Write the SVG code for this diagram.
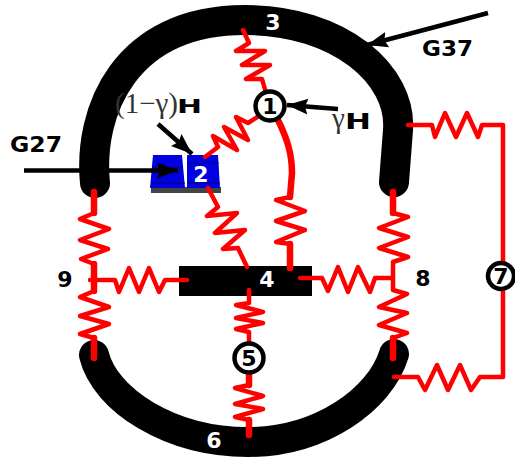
<svg xmlns="http://www.w3.org/2000/svg" width="515" height="457" viewBox="0 0 515 457">
<style>
.arc{fill:none;stroke:#000;stroke-width:30;stroke-linecap:round}
.r{fill:none;stroke:#f00;stroke-width:4.5;stroke-linejoin:round;stroke-linecap:round}
.t{fill:none;stroke:#f00;stroke-width:6.5;stroke-linecap:round}
.a{fill:none;stroke:#000;stroke-width:4.5}
.b{font-family:"DejaVu Sans",sans-serif;font-weight:bold;font-size:22px;text-anchor:middle}
.w{fill:#fff}
.s{font-family:"Liberation Serif",serif;font-size:29px;fill:#333}
.h{font-family:"DejaVu Sans",sans-serif;font-weight:bold;fill:#000}
.g{font-family:"DejaVu Sans",sans-serif;font-weight:bold;font-size:22px}
.c{fill:#fff;stroke:#000;stroke-width:4.5}
.e{stroke:#00007a;stroke-width:1}
</style>
<defs>
<marker id="ah" markerUnits="userSpaceOnUse" markerWidth="24" markerHeight="18" refX="21" refY="8" orient="auto"><path d="M0 0L21 8L0 16L3 8Z" fill="#000"/></marker>
</defs>
<g id="node3"><path class="arc" d="M95 183C88 112 124 20 245 20C340 20 402 75 398 130L394 182"/><text class="b w" x="273" y="30">3</text></g>
<g id="node6"><path class="arc" d="M94 355C105 400 170 442 248 442C320 442 380 400 394 354"/><text class="b w" x="214" y="448">6</text></g>
<g id="node4"><rect x="179" y="266" width="133" height="30" fill="#000"/><text class="b w" x="267" y="287">4</text></g>
<g id="node2"><rect x="151" y="187" width="70" height="6" fill="#444"/><path d="M153 155H182L185 188H150Z" fill="#0000e0"/><path d="M187 155H218L220 188H187Z" fill="#0000e0"/><path class="e" d="M152 167H183M151 183H185M187 163H219M187 183H220"/><text class="b w" x="201" y="182">2</text></g>
<g id="connectors">
<path class="t" d="M94 192V213"/><path class="r" d="M94 213L80 219L109 229L80 240L108 249L81 259L94 264"/><path class="t" d="M94 264V291"/>
<path class="r" d="M94 291L80 297L109 307L80 316L109 324L80 334L94 338"/><path class="t" d="M94 338V358"/>
<path class="r" d="M90 280H115L119 292L129 268L139 292L149 268L159 292L165 280H187"/>
<path class="r" d="M208 188L218 207L207 216L237 213L215 233L245 230L223 249L238 248L247 267"/>
<path class="r" d="M249 290V303L236 305L263 312L236 318L263 323L236 329L249 332V345"/>
<path class="t" d="M249 370V385"/><path class="r" d="M249 385L235 388L263 396L235 404L263 409L235 417L249 420"/><path class="t" d="M249 420V435"/>
<path class="r" d="M243 30L249 43L236 51L265 51L242 65L270 65L246 79L262 79L266 93"/>
<path class="r" d="M262 114L248 123L236 117L248 140L224 127L237 150L213 136L218 147L205 157"/>
<path class="t" d="M277 118C288 140 292 155 292 173L290 197"/>
<path class="r" d="M290 197L276 200L305 211L276 221L305 230L276 242L290 244"/><path class="t" d="M290 244V268"/>
<path class="t" d="M393 192V213"/><path class="r" d="M393 213L408 217L379 228L408 237L379 248L408 257L393 262V290L407 294L379 307L407 313L379 325L407 333L393 338"/><path class="t" d="M393 338V358"/>
<path class="r" d="M300 278H322L328 291L338 267L348 292L358 267L370 292L375 278H393"/>
<path class="r" d="M408 125H432L435 137L445 113L456 137L467 113L478 137L482 125H503V377H480L471 390L460 365L448 390L437 365L425 390L418 377H394"/>
</g>
<g id="node1"><circle class="c" cx="270" cy="106" r="14.5"/><text class="b" x="270" y="114">1</text></g>
<g id="node5"><circle class="c" cx="249" cy="358" r="14.5"/><text class="b" x="249" y="366">5</text></g>
<g id="node7"><circle class="c" cx="501" cy="276" r="13"/><text class="b" x="501" y="284">7</text></g>
<g id="node8"><text class="b" x="423" y="286">8</text></g>
<g id="node9"><text class="b" x="65" y="287">9</text></g>
<g id="labels">
<path class="a" marker-end="url(#ah)" d="M24 170.500H178"/>
<path class="a" marker-end="url(#ah)" d="M158 124L192 154"/>
<path class="a" marker-end="url(#ah)" d="M338 109L287 105"/>
<path class="a" marker-end="url(#ah)" d="M488 13L367 45"/>
<text class="s" x="115" y="113">(1−γ)</text><text class="h" x="177" y="113" style="font-size:20px" textLength="25" lengthAdjust="spacingAndGlyphs">H</text>
<text class="s" x="332" y="128">γ</text><text class="h" x="345" y="129" style="font-size:22px" textLength="26" lengthAdjust="spacingAndGlyphs">H</text>
<text class="g" x="10" y="152" textLength="52" lengthAdjust="spacingAndGlyphs">G27</text>
<text class="g" x="422" y="56" textLength="51" lengthAdjust="spacingAndGlyphs">G37</text>
</g>
</svg>
